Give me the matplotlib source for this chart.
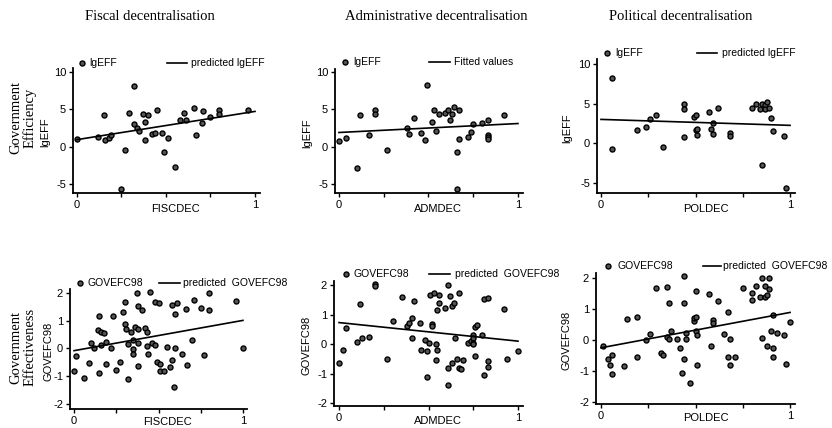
import matplotlib
matplotlib.use('Agg')
import matplotlib.pyplot as plt
from matplotlib.lines import Line2D

plt.rcParams['font.family'] = ['Liberation Sans', 'DejaVu Sans']

# --- data ---
col_titles = ['Fiscal decentralisation', 'Administrative decentralisation', 'Political decentralisation']
row_titles = ['Government\nEfficiency', 'Government\nEffectiveness']
x_names = ['FISCDEC', 'ADMDEC', 'POLDEC']

fisc_eff_x = [0.00, 0.12, 0.15, 0.16, 0.18, 0.19, 0.25, 0.27, 0.29, 0.32, 0.32, 0.34, 0.35, 0.37, 0.38, 0.38, 0.40, 0.42,
              0.44, 0.45, 0.48, 0.49, 0.51, 0.55, 0.58, 0.60, 0.61, 0.66, 0.67, 0.70, 0.71, 0.75, 0.80, 0.80, 0.96]
fisc_eff_y = [1.0, 1.3, 4.2, 0.9, 1.2, 1.6, -5.65, -0.45, 4.45, 8.1, 3.0, 2.5, 2.1, 4.4, 3.3, 0.85, 4.2, 1.7,
              1.8, 4.9, 1.85, -0.7, 1.1, -2.7, 3.55, 4.45, 3.5, 5.2, 1.5, 3.2, 4.8, 3.9, 4.85, 4.35, 4.9]
fisc_eff_fit = (0.93, 3.77)  # intercept, slope

adm_eff_x = [0.00, 0.04, 0.10, 0.12, 0.17, 0.20, 0.20, 0.27, 0.38, 0.39, 0.42, 0.46, 0.48, 0.49, 0.52, 0.53, 0.54, 0.56,
             0.59, 0.61, 0.62, 0.63, 0.64, 0.66, 0.66, 0.67, 0.67, 0.72, 0.74, 0.75, 0.80, 0.83, 0.83, 0.83, 0.83, 0.92]
adm_eff_y = [0.8, 1.15, -2.8, 4.25, 1.6, 4.9, 4.4, -0.5, 2.5, 1.65, 3.9, 1.85, 0.85, 8.2, 3.3, 4.85, 2.1, 4.4,
             4.5, 4.9, 3.55, 4.4, 5.25, -0.7, -5.7, 4.9, 1.05, 1.35, 1.9, 3.0, 3.2, 3.6, 1.55, 1.3, 1.05, 4.25]
adm_eff_fit = (1.9, 1.2)

pol_eff_x = [0.06, 0.06, 0.19, 0.24, 0.26, 0.29, 0.33, 0.44, 0.44, 0.44, 0.49, 0.50, 0.50, 0.51, 0.51, 0.57, 0.58, 0.59,
             0.59, 0.62, 0.68, 0.68, 0.80, 0.82, 0.84, 0.85, 0.85, 0.87, 0.87, 0.88, 0.89, 0.90, 0.91, 0.97, 0.98]
pol_eff_y = [8.2, -0.7, 1.65, 2.1, 3.0, 3.6, -0.45, 5.0, 4.25, 0.8, 3.3, 3.55, 1.65, 1.85, 1.1, 3.9, 1.85, 2.5,
             1.2, 4.45, 1.3, 0.95, 4.45, 4.9, 4.35, 4.9, -2.75, 4.85, 4.25, 5.25, 4.4, 3.2, 1.55, 0.9, -5.65]
pol_eff_fit = (3.0, -0.75)

fisc_gov_x = [0.00, 0.01, 0.06, 0.09, 0.10, 0.12, 0.14, 0.15, 0.15, 0.16, 0.16, 0.18, 0.19, 0.19, 0.22, 0.23, 0.25,
              0.27, 0.29, 0.30, 0.30, 0.31, 0.32, 0.32, 0.34, 0.35, 0.35, 0.35, 0.36, 0.37, 0.38, 0.38, 0.38, 0.38,
              0.40, 0.42, 0.43, 0.43, 0.44, 0.45, 0.46, 0.48, 0.48, 0.49, 0.50, 0.51, 0.51, 0.53, 0.55, 0.57, 0.58,
              0.58, 0.59, 0.60, 0.60, 0.61, 0.64, 0.66, 0.67, 0.70, 0.71, 0.75, 0.77, 0.80, 0.80, 0.96, 1.00]
fisc_gov_y = [-0.81, -0.27, -1.07, -0.53, 0.19, 0.01, 0.66, 1.18, -0.87, 0.59, 0.14, 0.54, 0.23, -0.55, 0.0, 1.17,
              -0.78, -0.49, 1.30, 1.67, 0.89, 0.71, 0.17, -1.11, 0.61, -0.01, -0.2, 0.29, 0.78, 1.98, 1.52, 0.71,
              0.19, -0.63, 1.37, 0.72, 0.61, 0.08, -0.2, 2.05, 0.2, 0.14, 1.69, -0.49, 1.63, -0.55, -0.82, -0.82,
              0.07, -0.65, 1.58, -0.43, -1.4, 1.23, 0.02, 1.64, -0.2, 1.42, -0.58, 0.29, 1.73, 1.46, -0.25, 2.0,
              1.37, 1.72, 0.02]
fisc_gov_fit = (-0.08, 1.09)

adm_gov_x = [0.00, 0.02, 0.04, 0.10, 0.12, 0.13, 0.17, 0.20, 0.20, 0.27, 0.30, 0.35, 0.38, 0.39, 0.41, 0.41, 0.42,
             0.45, 0.46, 0.48, 0.49, 0.49, 0.50, 0.51, 0.52, 0.52, 0.53, 0.54, 0.54, 0.55, 0.55, 0.56, 0.56, 0.59,
             0.61, 0.61, 0.62, 0.63, 0.63, 0.64, 0.65, 0.66, 0.67, 0.67, 0.68, 0.69, 0.61, 0.72, 0.74, 0.75, 0.75,
             0.75, 0.75, 0.76, 0.76, 0.77, 0.80, 0.81, 0.81, 0.83, 0.83, 0.83, 0.92, 0.94, 1.00]
adm_gov_y = [-0.63, -0.2, 0.54, 0.07, 1.37, 0.19, 0.23, 2.05, 1.96, -0.49, 0.78, 1.61, 0.63, 0.72, 0.9, 0.19, 1.46,
             0.7, -0.2, 0.15, -0.24, -1.1, 0.05, 1.68, 0.68, 0.61, 1.72, 0.0, -0.54, 1.17, -0.2, 1.68, 1.38, 1.22,
             1.99, -0.8, 1.64, -0.63, 1.29, 1.41, 0.21, -0.49, 1.72, -0.8, -0.85, -0.54, -1.38, 0.05, 0.12, 0.3,
             0.21, 0.05, 0.0, -0.42, 0.59, 0.65, 0.3, 1.52, -1.06, 1.57, -0.57, -0.78, 1.18, -0.51, -0.24]
adm_gov_fit = (0.73, -0.63)

pol_gov_x = [0.01, 0.04, 0.05, 0.06, 0.06, 0.12, 0.14, 0.19, 0.19, 0.24, 0.26, 0.29, 0.32, 0.33, 0.35, 0.35, 0.36,
             0.36, 0.37, 0.40, 0.42, 0.43, 0.44, 0.44, 0.44, 0.45, 0.45, 0.47, 0.49, 0.49, 0.50, 0.50, 0.50, 0.51,
             0.51, 0.57, 0.58, 0.59, 0.59, 0.62, 0.65, 0.67, 0.67, 0.68, 0.68, 0.71, 0.75, 0.80, 0.80, 0.82, 0.84,
             0.85, 0.85, 0.87, 0.87, 0.88, 0.88, 0.89, 0.89, 0.90, 0.91, 0.91, 0.91, 0.93, 0.97, 0.98, 1.00]
pol_gov_y = [-0.19, -0.61, -0.8, -0.48, -1.09, -0.85, 0.67, 0.75, -0.54, 0.0, 0.18, 1.67, -0.42, -0.48, 1.71, 0.1,
             1.19, 0.05, 0.29, 0.02, -0.24, -1.06, 2.06, 1.19, -0.61, 0.22, 0.05, -1.39, 0.62, 0.7, 0.74, 1.59,
             0.28, 0.16, -0.8, 1.48, -0.19, 0.65, 0.54, 1.25, 0.19, 0.91, -0.54, 0.03, -0.8, -0.53, 1.69, 1.53,
             1.3, 1.75, 1.4, 2.01, 0.08, 1.75, 1.4, 1.45, -0.19, 1.99, 1.63, 0.29, 0.82, -0.24, -0.56, 0.22, 0.16,
             -0.78, 0.59]
pol_gov_fit = (-0.25, 1.14)

eff_yticks = [-5, 0, 5, 10]
gov_yticks = [-2, -1, 0, 1, 2]

W, H = 832, 428


def fx(px):
    return px / W


def fy(py):
    return 1 - py / H


# layout in pixels: (left, top, right, bottom), xlim, ylim, legend (y, dot, text, line0, line1, text2), ylabel x
panels = [
    dict(x=fisc_eff_x, y=fisc_eff_y, fit=fisc_eff_fit, rect=(73, 68, 260, 193), xlim=(-0.022, 1.028),
         ylim=(-6.2, 10.5), yticks=eff_yticks, ylab='lgEFF', xlab=x_names[0], xoff=16,
         leg=(63, 82, 89, 167, 187, 191), l1='lgEFF', l2='predicted lgEFF', ylx=45),
    dict(x=adm_eff_x, y=adm_eff_y, fit=adm_eff_fit, rect=(335, 69, 523, 193), xlim=(-0.022, 1.028),
         ylim=(-6.2, 10.4), yticks=eff_yticks, ylab='lgEFF', xlab=x_names[1], xoff=16,
         leg=(62, 345, 353, 429, 450, 454), l1='lgEFF', l2='Fitted values', ylx=307),
    dict(x=pol_eff_x, y=pol_eff_y, fit=pol_eff_fit, rect=(597, 59, 795, 193), xlim=(-0.021, 1.026),
         ylim=(-6.26, 10.6), yticks=eff_yticks, ylab='lgEFF', xlab=x_names[2], xoff=16,
         leg=(53, 607, 615, 697, 717, 722), l1='lgEFF', l2='predicted lgEFF', ylx=567),
    dict(x=fisc_gov_x, y=fisc_gov_y, fit=fisc_gov_fit, rect=(70, 289, 247, 409), xlim=(-0.024, 1.024),
         ylim=(-2.18, 2.14), yticks=gov_yticks, ylab='GOVEFC98', xlab=x_names[0], xoff=13,
         leg=(283, 80, 87, 159, 180, 183), l1='GOVEFC98', l2='predicted  GOVEFC98', ylx=49),
    dict(x=adm_gov_x, y=adm_gov_y, fit=adm_gov_fit, rect=(334, 281, 523, 406), xlim=(-0.028, 1.028),
         ylim=(-2.1, 2.14), yticks=gov_yticks, ylab='GOVEFC98', xlab=x_names[1], xoff=15,
         leg=(274, 346, 353, 429, 450, 455), l1='GOVEFC98', l2='predicted  GOVEFC98', ylx=307),
    dict(x=pol_gov_x, y=pol_gov_y, fit=pol_gov_fit, rect=(596, 273, 795, 404), xlim=(-0.026, 1.026),
         ylim=(-2.06, 2.16), yticks=gov_yticks, ylab='GOVEFC98', xlab=x_names[2], xoff=14,
         leg=(266, 608, 617, 703, 721, 723), l1='GOVEFC98', l2='predicted  GOVEFC98', ylx=567),
]

fig = plt.figure(figsize=(W / 100, H / 100), dpi=100)
fs = 8
lfs = 7.5

for p in panels:
    l, t, r, b = p['rect']
    ax = fig.add_axes([fx(l), fy(b), (r - l) / W, (b - t) / H])
    ax.plot(p['x'], p['y'], 'o', ms=3.6, mfc='#555555', mec='black', mew=1.0, ls='none')
    a, s = p['fit']
    ax.plot([0, 1], [a, a + s], color='black', lw=1.2)
    ax.set_xlim(*p['xlim'])
    ax.set_ylim(*p['ylim'])
    ax.set_xticks([0, 0.25, 0.5, 0.75, 1])
    ax.set_xticklabels(['0', '', '', '', '1'])
    ax.set_yticks(p['yticks'])
    ax.set_yticklabels([str(v) for v in p['yticks']])
    for side in ['top', 'right']:
        ax.spines[side].set_visible(False)
    for side in ['left', 'bottom']:
        ax.spines[side].set_linewidth(1.3)
    ax.tick_params(direction='out', length=3, width=1, labelsize=fs, pad=2)
    ax.set_xlabel(p['xlab'], fontsize=fs)
    ax.xaxis.set_label_coords(fx(l + 0.55 * (r - l)), fy(b + p['xoff']), transform=fig.transFigure)
    ax.xaxis.label.set_va('center')
    ax.set_ylabel(p['ylab'], fontsize=fs)
    ax.yaxis.set_label_coords(fx(p['ylx']), fy((t + b) / 2 + 2), transform=fig.transFigure)
    ax.yaxis.label.set_va('center')

    # legend above the axes
    ly, dot, tx1, lx0, lx1, tx2 = p['leg']
    fig.add_artist(Line2D([fx(dot)], [fy(ly)], marker='o', ms=3.6, mfc='#555555', mec='black', mew=1.0,
                          ls='none', transform=fig.transFigure))
    fig.text(fx(tx1), fy(ly), p['l1'], fontsize=lfs, va='center', ha='left')
    fig.add_artist(Line2D([fx(lx0), fx(lx1)], [fy(ly), fy(ly)], color='black', lw=1.2,
                          transform=fig.transFigure))
    fig.text(fx(tx2), fy(ly), p['l2'], fontsize=lfs, va='center', ha='left')

serif = ['Liberation Serif', 'DejaVu Serif']
for cx, title in zip([150, 436, 681], col_titles):
    fig.text(fx(cx), fy(17), title, family=serif, fontsize=10.5, ha='center', va='center')
for cy, lab in zip([118, 347], row_titles):
    fig.text(fx(23), fy(cy), lab, family=serif, fontsize=10.5, ha='center', va='center',
             rotation=90, linespacing=1.1)

fig.savefig('out.png', dpi=100)
